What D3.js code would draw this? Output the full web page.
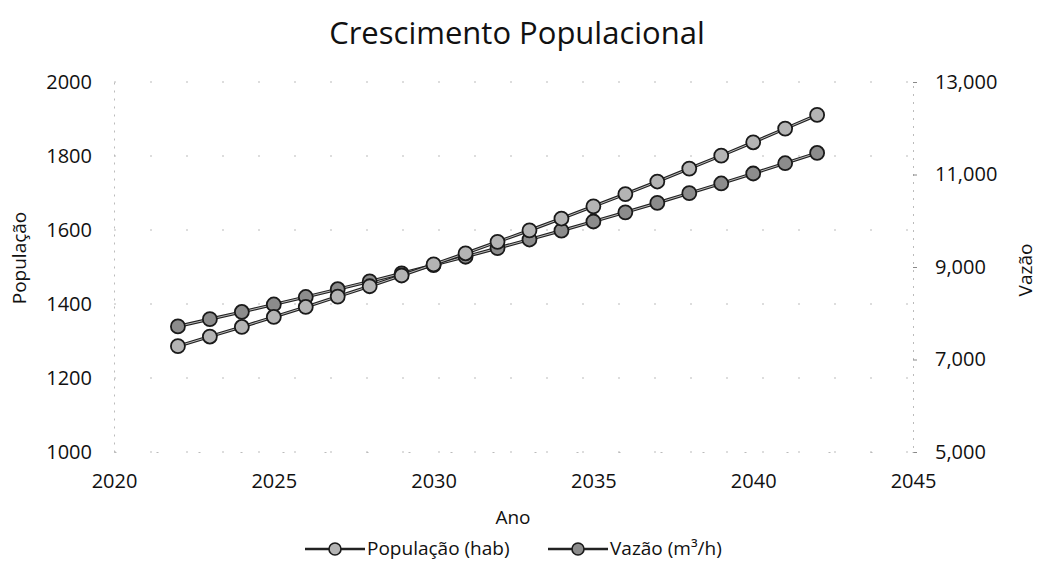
<!DOCTYPE html>
<html>
<head>
<meta charset="utf-8">
<script src="https://cdn.jsdelivr.net/npm/d3@7"></script>
<style>
  html, body { margin: 0; padding: 0; background: #fff; }
  svg { display: block; }
  text { font-family: "Open Sans", "Noto Sans", sans-serif; fill: #111; }
</style>
</head>
<body>
<svg id="chart" width="1040" height="566"></svg>
<script>
// ---- data ----
const anos = [2022, 2023, 2024, 2025, 2026, 2027, 2028, 2029, 2030, 2031, 2032,
              2033, 2034, 2035, 2036, 2037, 2038, 2039, 2040, 2041, 2042];
const populacao = [1286, 1312, 1338, 1365, 1392, 1420, 1448, 1477, 1507, 1537, 1568,
                   1599, 1631, 1664, 1697, 1731, 1766, 1801, 1837, 1874, 1911];
const vazao = [7716, 7872, 8028, 8190, 8352, 8520, 8688, 8862, 9042, 9222, 9408,
               9594, 9786, 9984, 10182, 10386, 10596, 10806, 11022, 11244, 11466];
const xTicks = [2020, 2025, 2030, 2035, 2040, 2045];
const leftTicks = [1000, 1200, 1400, 1600, 1800, 2000];
const rightTicks = [5000, 7000, 9000, 11000, 13000];
const seriesNames = ["População (hab)", "Vazão (m³/h)"];
const titulo = "Crescimento Populacional";

// ---- layout ----
const svg = d3.select("#chart");
const L = 114, R = 913, T = 82, B = 452;
const x = d3.scaleLinear().domain([2020, 2045]).range([L, R]);
const yL = d3.scaleLinear().domain([1000, 2000]).range([B, T]);
const yR = d3.scaleLinear().domain([5000, 13000]).range([B, T]);

// faint gridlines (scan remnants)
svg.append("g").selectAll("line").data(leftTicks).join("line")
  .attr("x1", L).attr("x2", R)
  .attr("y1", d => yL(d)).attr("y2", d => yL(d))
  .attr("stroke", "#bbb").attr("stroke-width", 1)
  .attr("stroke-dasharray", "2,34");

// axes
const axL = svg.append("g").attr("transform", `translate(${L},0)`)
  .call(d3.axisLeft(yL).tickValues(leftTicks).tickSize(0).tickPadding(22).tickFormat(d3.format("d")));
const axR = svg.append("g").attr("transform", `translate(${R},0)`)
  .call(d3.axisRight(yR).tickValues(rightTicks).tickSize(4).tickPadding(18).tickFormat(d3.format(",")));
const axB = svg.append("g").attr("transform", `translate(0,${B})`)
  .call(d3.axisBottom(x).tickValues(xTicks).tickSize(0).tickPadding(22).tickFormat(d3.format("d")));
[axL, axR, axB].forEach(a => {
  a.select(".domain").attr("stroke", "#bbb").attr("stroke-dasharray", "2,6");
  a.selectAll(".tick line").attr("stroke", "#888");
  a.selectAll("text").style("font-family", '"Open Sans", sans-serif').style("font-size", "20px").attr("fill", "#111");
});
axB.select(".domain").attr("stroke-dasharray", "2,40");

// lines + markers
const lineL = d3.line().x((d, i) => x(anos[i])).y(d => yL(d));
const lineR = d3.line().x((d, i) => x(anos[i])).y(d => yR(d));
const lineColor = "#222";
const fills = ["#b4b4b4", "#8c8c8c"];

function drawSeries(vals, line, yScale, fill) {
  const g = svg.append("g");
  g.append("path").datum(vals).attr("d", line)
    .attr("fill", "none").attr("stroke", lineColor).attr("stroke-width", 3.2);
  g.append("path").datum(vals).attr("d", line)
    .attr("fill", "none").attr("stroke", "#e0e0e0").attr("stroke-width", 0.8);
  g.selectAll("circle").data(vals).join("circle")
    .attr("cx", (d, i) => x(anos[i])).attr("cy", d => yScale(d))
    .attr("r", 7).attr("fill", fill)
    .attr("stroke", "#1a1a1a").attr("stroke-width", 1.8);
}
drawSeries(vazao, lineR, yR, fills[1]);
drawSeries(populacao, lineL, yL, fills[0]);

// title
svg.append("text").attr("x", 517).attr("y", 44).attr("text-anchor", "middle")
  .style("font-size", "31px").text(titulo);

// axis titles
svg.append("text").attr("transform", "translate(26,258) rotate(-90)")
  .attr("text-anchor", "middle").style("font-size", "19px").text("População");
svg.append("text").attr("transform", "translate(1032,270) rotate(-90)")
  .attr("text-anchor", "middle").style("font-size", "19px").text("Vazão");
svg.append("text").attr("x", 513).attr("y", 524).attr("text-anchor", "middle")
  .style("font-size", "19px").text("Ano");

// legend
const legend = [
  { name: seriesNames[0], x0: 305, fill: fills[0] },
  { name: seriesNames[1], x0: 548, fill: fills[1] }
];
const lg = svg.append("g");
legend.forEach(it => {
  lg.append("line").attr("x1", it.x0).attr("x2", it.x0 + 60)
    .attr("y1", 549).attr("y2", 549).attr("stroke", lineColor).attr("stroke-width", 2.5);
  lg.append("circle").attr("cx", it.x0 + 30).attr("cy", 549).attr("r", 6)
    .attr("fill", it.fill).attr("stroke", "#1a1a1a").attr("stroke-width", 1.6);
  lg.append("text").attr("x", it.x0 + 62).attr("y", 555)
    .style("font-size", "19px").text(it.name);
});
</script>
</body>
</html>
